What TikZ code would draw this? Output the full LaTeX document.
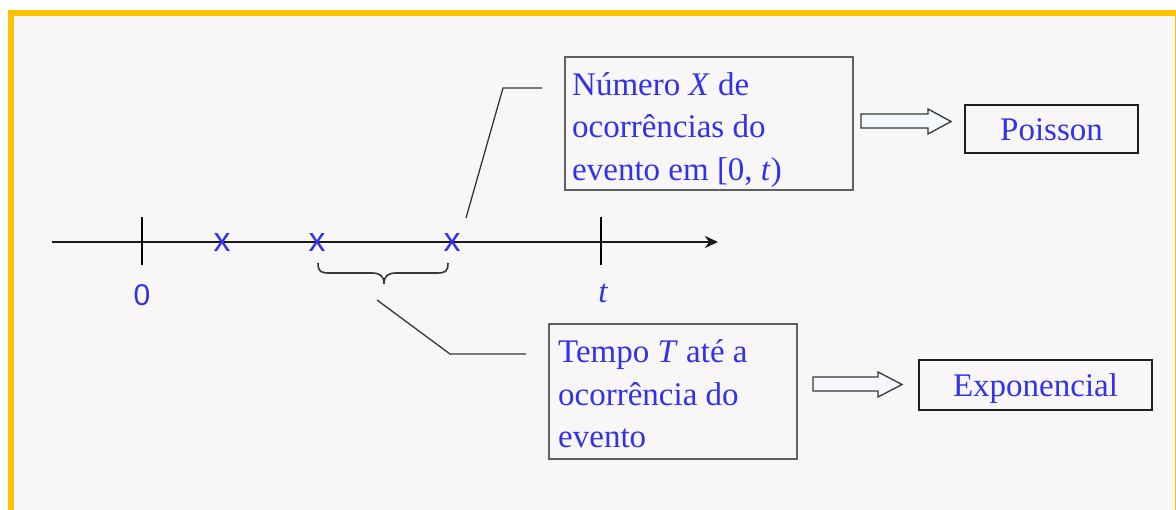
\documentclass[tikz,border=0pt]{standalone}
\usepackage{fontspec}
\setmainfont{Liberation Serif}
\newfontfamily\arialf{Liberation Sans}
\usetikzlibrary{arrows.meta}
\definecolor{frameor}{RGB}{255,192,0}
\definecolor{bgpane}{RGB}{248,246,247}
\definecolor{txtblue}{RGB}{50,50,235}
\definecolor{arrfill}{RGB}{244,248,252}
\definecolor{boxgray}{RGB}{95,95,95}
\definecolor{linegray}{RGB}{55,55,55}
\tikzset{
  bigbox/.style={draw=boxgray, line width=1.6pt, inner sep=0pt},
  boxtext/.style={inner sep=0pt, align=flush left,
    font=\fontsize{33}{42.5}\selectfont, text=txtblue},
  smallbox/.style={draw=black!88, line width=2pt, inner sep=0pt,
    font=\fontsize{33}{33}\selectfont, text=txtblue, text height=22pt, text depth=0pt},
  xmark/.style={font=\arialf\fontsize{34}{34}\selectfont, text=txtblue, inner sep=0pt},
  callout/.style={draw=linegray, line width=1.3pt},
  blockarr/.style={draw=linegray, line width=1.3pt, fill=arrfill, line join=miter},
  axisline/.style={line width=2pt, draw=black!90},
}
\begin{document}
\begin{tikzpicture}[x=1pt,y=-1pt]
\useasboundingbox (0,0) rectangle (1176,509);
\fill[white] (0,0) rectangle (1176,509);
\draw[frameor, line width=6pt, fill=bgpane] (11,13) rectangle (1177.5,514);

% boxes
\node[bigbox, minimum width=288pt, minimum height=133pt] (numbox) at (709,123.5) {};
\node[boxtext, anchor=west] (numtext) at (572,130) 
  {Número \textit{X} de\\ocorrências do\\evento em [0, \textit{t})};
\node[bigbox, minimum width=248pt, minimum height=135pt] (tempobox) at (673,391.5) {};
\node[boxtext, anchor=west] (tempotext) at (558,394)
  {Tempo \textit{T} até a\\ocorrência do\\evento};
\node[smallbox, minimum width=173pt, minimum height=48pt] (poisson) at (1051.5,129) {Poisson};
\node[smallbox, minimum width=233pt, minimum height=50pt] (expo) at (1035.5,385) {Exponencial};

% time axis
\coordinate (axL) at (52,242);
\coordinate (axR) at (718,242);
\draw[axisline, -{Stealth[length=13pt,width=12pt,inset=4pt]}] (axL) -- (axR);
\coordinate (tk0a) at (142,217); \coordinate (tk0b) at (142,265);
\coordinate (tkta) at (601,217); \coordinate (tktb) at (601,265);
\draw[line width=1.5pt] (tk0a) -- (tk0b);
\draw[line width=1.5pt] (tkta) -- (tktb);
\node[font=\arialf\fontsize{30}{30}\selectfont, text=txtblue] (lab0) at (142,295) {0};
\node[font=\fontsize{33}{33}\selectfont\itshape, text=txtblue] (labt) at (603,293) {t};

% events
\node[xmark] (e1) at (222,243) {x};
\node[xmark] (e2) at (317,243) {x};
\node[xmark] (e3) at (452,243) {x};

% brace
\draw[draw=linegray, line width=1.6pt]
  (318,263) .. controls (318,272) and (321,273) .. (330,273) -- (372,273)
  .. controls (380,273) and (384,276) .. (384,284)
  .. controls (384,276) and (388,273) .. (396,273) -- (436,273)
  .. controls (445,273) and (448,272) .. (448,263);

% callout lines
\coordinate (cu1) at (466,218); \coordinate (cu2) at (503,88); \coordinate (cu3) at (542,88);
\draw[callout] (cu1) -- (cu2) -- (cu3);
\coordinate (cl1) at (377,300); \coordinate (cl2) at (450,354); \coordinate (cl3) at (526,354);
\draw[callout] (cl1) -- (cl2) -- (cl3);

% block arrows
\draw[blockarr] (861,114) -- (928,114) -- (928,109) -- (951,121.5) -- (928,134) -- (928,128) -- (861,128) -- cycle;
\draw[blockarr] (813,377) -- (878,377) -- (878,372) -- (902,384.5) -- (878,397) -- (878,391) -- (813,391) -- cycle;
\end{tikzpicture}
\end{document}
